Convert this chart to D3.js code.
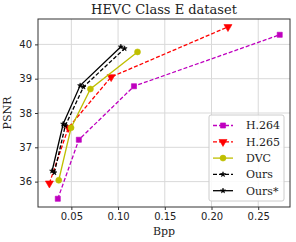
<!DOCTYPE html>
<html>
<head>
<meta charset="utf-8">
<script src="https://cdn.jsdelivr.net/npm/d3@7"></script>
<style>
  body { margin: 0; background: #fff; }
  text { font-family: "DejaVu Serif", serif; fill: #222; }
</style>
</head>
<body>
<div class="chart"></div>
<script>
// bpp / psnr per codec
const h264Bpp = [0.0355, 0.058, 0.117, 0.273];
const h264Psnr = [35.5, 37.22, 38.78, 40.28];
const h265Bpp = [0.0265, 0.0468, 0.0926, 0.2176];
const h265Psnr = [35.95, 37.57, 39.05, 40.51];
const dvcBpp = [0.0365, 0.0497, 0.0704, 0.1208];
const dvcPsnr = [36.04, 37.57, 38.7, 39.78];
const oursBpp = [0.0318, 0.0435, 0.063, 0.107];
const oursPsnr = [36.26, 37.63, 38.76, 39.88];
const oursStarBpp = [0.0294, 0.0412, 0.0594, 0.103];
const oursStarPsnr = [36.31, 37.68, 38.8, 39.93];

const xTicks = [0.05, 0.10, 0.15, 0.20, 0.25];
const yTicks = [36, 37, 38, 39, 40];

const series = [
  {name: "H.264", x: h264Bpp, y: h264Psnr, color: "#bf00bf", dash: "4,2", symbol: d3.symbolSquare, size: 26},
  {name: "H.265", x: h265Bpp, y: h265Psnr, color: "#ff0000", dash: "4,2", symbol: d3.symbolTriangle, size: 28, rot: 180},
  {name: "DVC", x: dvcBpp, y: dvcPsnr, color: "#bfbf00", dash: null, symbol: d3.symbolCircle, size: 28},
  {name: "Ours", x: oursBpp, y: oursPsnr, color: "#000", dash: "4,2", symbol: d3.symbolStar, size: 8},
  {name: "Ours*", x: oursStarBpp, y: oursStarPsnr, color: "#000", dash: null, symbol: d3.symbolStar, size: 8}
];

const svg_width = 296, svg_height = 242;
const margin = {top: 19, right: 6, bottom: 35, left: 38};
const w = svg_width - margin.left - margin.right;
const h = svg_height - margin.top - margin.bottom;

const svg = d3.select('.chart').append('svg')
  .attr('width', svg_width).attr('height', svg_height);
const g = svg.append('g').attr('transform', `translate(${margin.left},${margin.top})`);

const xScale = d3.scaleLinear([0.0143, 0.284], [0, w]);
const yScale = d3.scaleLinear([35.26, 40.74], [h, 0]);

// grid
g.append('g').selectAll('line').data(xTicks).join('line')
  .attr('x1', d => xScale(d)).attr('x2', d => xScale(d))
  .attr('y1', 0).attr('y2', h)
  .attr('stroke', '#d9d9d9').attr('stroke-width', 1);
g.append('g').selectAll('line').data(yTicks).join('line')
  .attr('y1', d => yScale(d)).attr('y2', d => yScale(d))
  .attr('x1', 0).attr('x2', w)
  .attr('stroke', '#d9d9d9').attr('stroke-width', 1);

const xAxis = d3.axisBottom(xScale).tickValues(xTicks).tickFormat(d3.format('.2f')).tickSize(3).tickSizeOuter(0);
const yAxis = d3.axisLeft(yScale).tickValues(yTicks).tickFormat(d3.format('d')).tickSize(3).tickSizeOuter(0);
const xAxisDraw = g.append('g').attr('transform', `translate(0,${h})`).call(xAxis);
const yAxisDraw = g.append('g').call(yAxis);
[xAxisDraw, yAxisDraw].forEach(a => {
  a.select('.domain').remove();
  a.selectAll('text').style('font-family', '"DejaVu Sans", sans-serif').style('font-size', '10px').attr('fill', '#222');
  a.selectAll('line').attr('stroke', '#333');
});

// lines
const line = d3.line().x(d => xScale(d[0])).y(d => yScale(d[1]));
series.forEach(s => {
  const pts = s.x.map((v, i) => [v, s.y[i]]);
  g.append('path').datum(pts)
    .attr('d', line).attr('fill', 'none')
    .attr('stroke', s.color).attr('stroke-width', 1.3)
    .attr('stroke-dasharray', s.dash);
  g.selectAll(null).data(pts).join('path')
    .attr('d', d3.symbol(s.symbol, s.size))
    .attr('transform', d => `translate(${xScale(d[0])},${yScale(d[1])}) rotate(${s.rot || 0})`)
    .attr('fill', s.color).attr('stroke', s.color).attr('stroke-width', 0.6);
});

// frame
g.append('rect').attr('width', w).attr('height', h)
  .attr('fill', 'none').attr('stroke', '#333').attr('stroke-width', 1);

// legend
const legend = g.append('g').attr('transform', `translate(${209 - margin.left},${115 - margin.top})`);
legend.append('rect').attr('width', 75).attr('height', 86).attr('rx', 2)
  .attr('fill', 'rgba(255,255,255,0.85)').attr('stroke', '#ccc');
series.forEach((s, i) => {
  const yy = 10.5 + i * 16.3;
  const row = legend.append('g').attr('transform', `translate(0,${yy})`);
  row.append('line').attr('x1', 4).attr('x2', 24).attr('stroke', s.color)
    .attr('stroke-width', 1.3).attr('stroke-dasharray', s.dash);
  row.append('path').attr('d', d3.symbol(s.symbol, s.size))
    .attr('transform', `translate(14,0) rotate(${s.rot || 0})`)
    .attr('fill', s.color).attr('stroke', s.color).attr('stroke-width', 0.6);
  row.append('text').attr('x', 37).attr('dy', '0.35em').style('font-size', '11px').text(s.name);
});

// title & labels
svg.append('text').attr('x', margin.left + w / 2).attr('y', 14)
  .attr('text-anchor', 'middle').style('font-size', '13px').text('HEVC Class E dataset');
svg.append('text').attr('x', margin.left + w / 2).attr('y', 235)
  .attr('text-anchor', 'middle').style('font-size', '11px').text('Bpp');
svg.append('text').attr('transform', `translate(11,${margin.top + h / 2}) rotate(-90)`)
  .attr('text-anchor', 'middle').style('font-size', '11px').text('PSNR');
</script>
</body>
</html>
